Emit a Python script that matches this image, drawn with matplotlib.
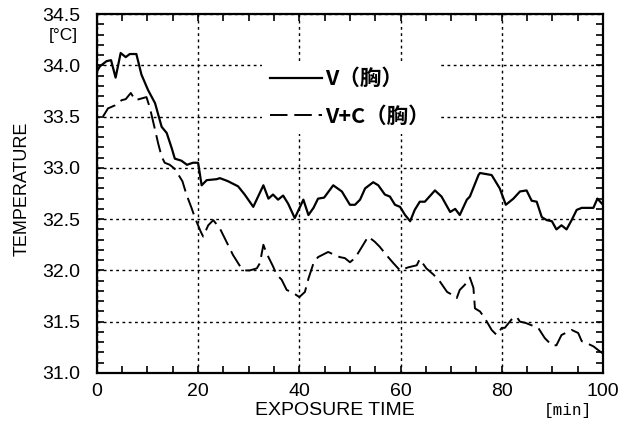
import matplotlib
matplotlib.use("Agg")
import matplotlib.pyplot as plt
from matplotlib.ticker import MultipleLocator

# readings (time in min, temperature in degC)
t_v = [0, 0.6, 1.9, 2.8, 3.7, 4.7, 5.7, 6.5, 7.8, 8.8, 10.1, 11.5, 12.8, 13.8, 14.8,
       15.4, 16.7, 17.8, 19.0, 20.0, 20.7, 21.7, 23.7, 24.3, 25.9, 27.9, 29.2, 30.9,
       32.9, 33.9, 34.8, 35.8, 36.8, 37.8, 39.1, 40.8, 41.8, 42.8, 43.7, 44.9, 46.7,
       48.4, 50.0, 51.0, 52.0, 53.0, 54.6, 55.6, 56.9, 57.9, 58.9, 59.9, 60.9, 61.9,
       62.8, 63.8, 64.8, 66.8, 68.1, 69.8, 70.8, 71.7, 73.1, 73.7, 75.4, 75.7, 78.0,
       79.6, 80.8, 82.3, 83.6, 84.9, 85.9, 86.9, 87.9, 88.9, 89.9, 90.8, 91.8, 92.8,
       93.8, 94.8, 95.8, 98.1, 98.9, 100]
temp_v = [33.94, 33.99, 34.04, 34.05, 33.88, 34.12, 34.08, 34.11, 34.11, 33.91, 33.76,
          33.63, 33.40, 33.34, 33.19, 33.09, 33.07, 33.03, 33.05, 33.05, 32.83, 32.88,
          32.89, 32.90, 32.87, 32.82, 32.74, 32.62, 32.83, 32.70, 32.74, 32.69, 32.73,
          32.65, 32.51, 32.69, 32.54, 32.61, 32.70, 32.71, 32.83, 32.77, 32.64, 32.64,
          32.69, 32.80, 32.86, 32.83, 32.74, 32.72, 32.64, 32.62, 32.54, 32.48, 32.59,
          32.67, 32.67, 32.78, 32.72, 32.57, 32.60, 32.54, 32.69, 32.72, 32.93, 32.95,
          32.93, 32.80, 32.64, 32.70, 32.77, 32.78, 32.68, 32.67, 32.52, 32.49, 32.48,
          32.40, 32.44, 32.40, 32.49, 32.59, 32.61, 32.61, 32.70, 32.64]

t_vc = [1.2, 2.2, 3.6, 4.9, 5.7, 6.7, 7.6, 9.8, 10.5, 11.5, 12.1, 12.8, 13.4, 14.4,
        15.4, 16.9, 17.7, 18.7, 19.4, 20.5, 21.0, 22.0, 23.0, 24.3, 25.6, 26.9, 28.3,
        29.2, 30.2, 31.6, 32.2, 32.9, 33.5, 34.8, 35.5, 36.5, 37.5, 38.8, 40.0, 41.1,
        41.8, 42.8, 43.7, 45.7, 47.0, 48.0, 49.0, 50.0, 51.0, 52.0, 53.6, 54.9, 55.9,
        57.2, 58.6, 59.9, 61.5, 63.2, 63.8, 65.1, 66.5, 67.8, 69.2, 70.3, 71.1, 71.7,
        72.7, 73.7, 74.4, 74.7, 75.7, 76.7, 78.0, 79.0, 80.0, 80.6, 81.9, 82.9, 83.6,
        84.6, 87.2, 88.5, 89.9, 90.8, 91.8, 93.8, 95.1, 95.8, 96.8, 98.1, 99.4, 100]
temp_vc = [33.50, 33.58, 33.61, 33.66, 33.67, 33.73, 33.66, 33.69, 33.58, 33.37, 33.24,
           33.11, 33.05, 33.03, 32.99, 32.87, 32.74, 32.61, 32.51, 32.38, 32.33, 32.44,
           32.49, 32.41, 32.28, 32.15, 32.04, 32.00, 32.00, 32.02, 32.07, 32.25, 32.17,
           32.04, 31.96, 31.91, 31.81, 31.78, 31.74, 31.79, 31.92, 32.07, 32.13, 32.18,
           32.15, 32.13, 32.12, 32.08, 32.12, 32.20, 32.33, 32.28, 32.23, 32.15, 32.07,
           32.00, 32.03, 32.05, 32.11, 32.02, 31.96, 31.89, 31.79, 31.76, 31.73, 31.81,
           31.86, 31.93, 31.83, 31.63, 31.60, 31.53, 31.42, 31.37, 31.44, 31.44, 31.52,
           31.55, 31.50, 31.49, 31.44, 31.34, 31.27, 31.27, 31.37, 31.42, 31.39, 31.31,
           31.29, 31.26, 31.21, 31.19]

x_ticks = [0, 20, 40, 60, 80, 100]
y_ticks = [31.0, 31.5, 32.0, 32.5, 33.0, 33.5, 34.0, 34.5]

plt.rcParams['font.family'] = ['Liberation Sans', 'DejaVu Sans']

fig = plt.figure(figsize=(6.21, 4.33), dpi=100)
ax = fig.add_axes([0.156, 0.1386, 0.815, 0.829])

ax.plot(t_v, temp_v, color="black", lw=1.6, label="V（胸）")
ax.plot(t_vc, temp_vc, color="black", lw=1.4, dashes=(9, 3.5), label="V+C（胸）")

ax.set_xlim(0, 100)
ax.set_ylim(31.0, 34.5)
ax.set_xticks(x_ticks)
ax.set_yticks(y_ticks)
ax.set_yticklabels([f"{v:.1f}" for v in y_ticks])
ax.xaxis.set_minor_locator(MultipleLocator(5))
ax.yaxis.set_minor_locator(MultipleLocator(0.1))
ax.tick_params(which="both", direction="in", top=True, right=True, width=1.2)
ax.tick_params(which="major", length=5)
ax.tick_params(which="minor", length=5)
ax.tick_params(axis="y", labelsize=14, pad=12)
ax.tick_params(axis="x", labelsize=14, pad=7)
for s in ax.spines.values():
    s.set_linewidth(1.6)

ax.grid(True, which="major", color="black", lw=1.0, linestyle=(0, (2, 2.5)))
ax.set_axisbelow(True)

leg = ax.legend(loc="upper center", bbox_to_anchor=(0.5, 0.9), frameon=True,
                facecolor="white", edgecolor="none", framealpha=1, fancybox=False,
                handlelength=2.45, handletextpad=0.15, labelspacing=0.75, borderpad=0.35,
                prop={"family": ["Noto Sans CJK JP"], "weight": "bold", "size": 15.5})

fig.text(0.54, 0.053, "EXPOSURE TIME", ha="center", va="center", fontsize=14)
fig.text(0.915, 0.053, "[min]", ha="center", va="center", fontsize=11.5,
         family="Liberation Mono")
fig.text(0.036, 0.565, "TEMPERATURE", ha="center", va="center", rotation=90,
         fontsize=13)
fig.text(0.102, 0.918, "[°C]", ha="center", va="center", fontsize=12.5)

fig.savefig("out.png", dpi=100)
